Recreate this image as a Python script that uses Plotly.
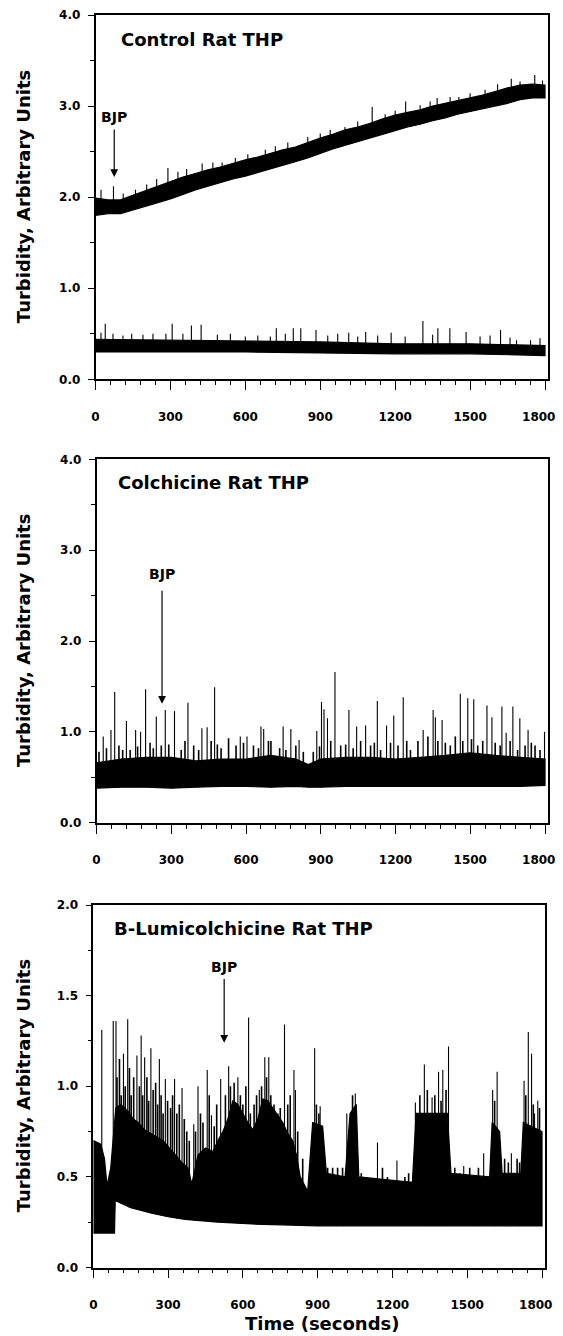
import numpy as np
import plotly.graph_objects as go

# The page body has an 8px margin, so the figure is drawn smaller and all
# page-pixel positions below are shifted by OFF.
OFF = 8
W, H = 563 - OFF, 1336 - OFF
FONT = "DejaVu Sans"

# ---------------- Panel 1: Control Rat THP ----------------
ctrl_up_t = [0, 50, 100, 150, 200, 250, 300, 350, 400, 450, 500, 550, 600, 650, 700, 750, 800, 850, 900, 950, 1000,
             1050, 1100, 1150, 1200, 1250, 1300, 1350, 1400, 1450, 1500, 1550, 1600, 1650, 1700, 1750, 1800]
ctrl_up_lo = [1.80, 1.82, 1.82, 1.86, 1.90, 1.94, 1.98, 2.03, 2.08, 2.12, 2.16, 2.20, 2.23, 2.27, 2.31, 2.35, 2.39, 2.43, 2.48, 2.53, 2.57,
              2.61, 2.65, 2.69, 2.73, 2.77, 2.80, 2.84, 2.87, 2.91, 2.94, 2.97, 3.00, 3.03, 3.07, 3.09, 3.09]
ctrl_up_hi = [1.99, 1.97, 1.97, 2.02, 2.07, 2.12, 2.17, 2.22, 2.26, 2.30, 2.33, 2.37, 2.41, 2.44, 2.48, 2.52, 2.55, 2.60, 2.65, 2.69, 2.74,
              2.77, 2.81, 2.86, 2.90, 2.93, 2.96, 3.00, 3.03, 3.06, 3.09, 3.12, 3.16, 3.20, 3.23, 3.24, 3.23]
ctrl_up_spk_t = [22, 72, 111, 160, 205, 245, 290, 330, 365, 427, 470, 507, 560, 610, 680, 720, 770, 850, 900, 940,
                 999, 1050, 1108, 1160, 1200, 1242, 1300, 1340, 1368, 1420, 1455, 1500, 1560, 1610, 1665, 1700, 1759, 1790]
ctrl_up_spk_v = [2.08, 2.12, 2.04, 2.08, 2.14, 2.20, 2.32, 2.28, 2.31, 2.37, 2.38, 2.38, 2.43, 2.47, 2.52, 2.56, 2.60, 2.66, 2.70, 2.74,
                 2.77, 2.83, 2.99, 2.91, 2.95, 3.05, 3.01, 3.05, 3.09, 3.10, 3.10, 3.14, 3.18, 3.24, 3.30, 3.27, 3.34, 3.28]

ctrl_lo_t = [0, 300, 600, 900, 1200, 1500, 1800]
ctrl_lo_lo = [0.30, 0.30, 0.30, 0.29, 0.28, 0.28, 0.26]
ctrl_lo_hi = [0.44, 0.43, 0.42, 0.41, 0.39, 0.39, 0.37]
ctrl_lo_spk_t = [22, 39, 70, 110, 145, 190, 230, 282, 307, 350, 384, 423, 488, 540, 600, 650, 700, 724, 760, 792, 822,
                 883, 930, 970, 1014, 1050, 1082, 1130, 1184, 1240, 1311, 1350, 1371, 1419, 1484, 1540, 1580, 1622,
                 1660, 1686, 1742, 1780]
ctrl_lo_spk_v = [0.51, 0.61, 0.50, 0.48, 0.50, 0.49, 0.50, 0.50, 0.61, 0.50, 0.59, 0.60, 0.49, 0.50, 0.47, 0.48, 0.47, 0.56, 0.50, 0.56, 0.56,
                 0.54, 0.48, 0.50, 0.51, 0.47, 0.52, 0.48, 0.51, 0.47, 0.64, 0.49, 0.56, 0.56, 0.52, 0.47, 0.48, 0.54,
                 0.46, 0.43, 0.43, 0.45]

# ---------------- Panel 2: Colchicine Rat THP ----------------
colc_t = [0, 100, 200, 300, 400, 500, 600, 700, 800, 850, 900, 1000, 1100, 1200, 1300, 1400, 1500, 1600, 1700, 1800]
colc_lo = [0.38, 0.39, 0.39, 0.38, 0.39, 0.40, 0.40, 0.39, 0.40, 0.39, 0.39, 0.40, 0.40, 0.40, 0.40, 0.40, 0.40, 0.40, 0.40, 0.41]
colc_hi = [0.66, 0.70, 0.72, 0.72, 0.68, 0.70, 0.70, 0.74, 0.70, 0.64, 0.70, 0.72, 0.72, 0.70, 0.72, 0.74, 0.77, 0.74, 0.72, 0.70]
colc_spk_t = [27, 58, 73, 120, 157, 177, 197, 240, 276, 313, 367, 423, 444, 474, 577, 604, 660, 671, 749, 780,
              813, 884, 903, 913, 927, 957, 1013, 1044, 1080, 1127, 1164, 1193, 1231, 1311, 1351, 1360, 1387,
              1460, 1490, 1514, 1567, 1587, 1627, 1644, 1671, 1699, 1732, 1798]
colc_spk_v = [0.95, 1.02, 1.44, 1.12, 1.02, 1.00, 1.47, 1.17, 1.24, 1.23, 1.32, 1.04, 1.05, 1.49, 0.95, 0.95, 1.06, 1.03, 1.06, 1.03,
              0.91, 1.01, 1.33, 1.25, 1.15, 1.66, 1.24, 1.06, 1.07, 1.34, 1.07, 1.18, 1.38, 1.02, 1.24, 1.16, 1.13,
              1.42, 1.37, 1.36, 1.29, 1.16, 1.28, 0.99, 1.28, 1.15, 1.02, 1.00]
colc_hair_t = [10, 40, 90, 105, 135, 165, 215, 228, 260, 290, 340, 355, 390, 410, 460, 485, 500, 530, 560, 590, 630,
               650, 690, 700, 735, 760, 800, 830, 870, 895, 940, 980, 1000, 1030, 1060, 1100, 1115, 1140, 1180,
               1210, 1245, 1260, 1290, 1330, 1370, 1400, 1420, 1440, 1470, 1505, 1530, 1550, 1600, 1620, 1660,
               1690, 1720, 1745, 1760, 1780]
colc_hair_v = [0.78, 0.82, 0.85, 0.80, 0.80, 0.84, 0.88, 0.82, 0.85, 0.86, 0.80, 0.90, 0.85, 0.80, 0.90, 0.86, 0.82, 0.93, 0.85, 0.88, 0.85,
               0.82, 0.90, 0.90, 0.82, 0.80, 0.85, 0.78, 0.78, 0.84, 0.90, 0.85, 0.86, 0.82, 0.90, 0.85, 0.88, 0.80, 0.88,
               0.85, 0.90, 0.80, 0.90, 0.95, 0.90, 0.88, 0.85, 0.95, 0.90, 0.92, 0.85, 0.90, 0.88, 0.85, 0.90,
               0.80, 0.85, 0.88, 0.85, 0.80]

# ---------------- Panel 3: B-Lumicolchicine Rat THP ----------------
lumi_lo_t = [0, 85, 88, 100, 150, 234, 300, 368, 500, 636, 900, 1800]
lumi_lo = [0.19, 0.19, 0.37, 0.36, 0.33, 0.30, 0.28, 0.265, 0.25, 0.24, 0.23, 0.23]
lumi_hi_t = [0, 30, 45, 55, 70, 80, 90, 110, 140, 160, 180, 205, 230, 255, 280, 305, 330, 355, 380, 395, 420, 450,
             480, 500, 520, 540, 560, 580, 600, 620, 640, 660, 680, 700, 720, 740, 760, 780, 800, 815, 830, 860,
             880, 920, 935, 1010, 1030, 1055, 1065, 1280, 1295, 1420, 1435, 1590, 1600, 1630, 1640, 1715, 1725, 1800]
lumi_hi = [0.70, 0.68, 0.60, 0.45, 0.55, 0.70, 0.88, 0.90, 0.86, 0.82, 0.80, 0.76, 0.74, 0.72, 0.70, 0.66, 0.62, 0.58, 0.55, 0.46, 0.62, 0.66,
           0.64, 0.70, 0.75, 0.82, 0.92, 0.90, 0.85, 0.80, 0.76, 0.82, 0.93, 0.92, 0.88, 0.84, 0.80, 0.74, 0.70, 0.62, 0.50, 0.42,
           0.80, 0.78, 0.52, 0.50, 0.85, 0.90, 0.50, 0.47, 0.85, 0.85, 0.52, 0.50, 0.80, 0.75, 0.52, 0.52, 0.80, 0.75]
lumi_spk_t = [34, 80, 91, 121, 138, 175, 192, 206, 231, 265, 289, 326, 356, 403, 420, 457, 474, 511, 543, 580,
              623, 666, 688, 704, 767, 805, 811, 888, 910, 1017, 1051, 1140, 1218, 1292, 1328, 1359, 1385, 1402,
              1425, 1486, 1566, 1602, 1620, 1677, 1728, 1745, 1758, 1770, 1783]
lumi_spk_v = [1.31, 1.36, 1.36, 1.18, 1.37, 1.17, 1.28, 1.16, 1.21, 1.15, 1.04, 1.04, 0.99, 0.79, 1.00, 1.09, 0.84, 1.04, 1.11, 1.05,
              1.38, 0.98, 1.16, 1.16, 1.34, 1.09, 0.98, 1.21, 0.89, 0.85, 0.96, 0.69, 0.59, 0.91, 1.12, 0.94, 1.08, 1.09,
              1.22, 0.56, 0.63, 0.98, 1.08, 0.63, 1.03, 1.30, 1.18, 0.85, 0.92]
lumi_hair_t = [95, 105, 112, 128, 145, 152, 162, 185, 198, 215, 222, 240, 250, 258, 272, 280, 298, 310, 318, 335, 345,
               365, 375, 385, 410, 430, 440, 465, 485, 495, 530, 550, 565, 590, 600, 612, 630, 645, 655, 675, 695,
               712, 725, 740, 750, 780, 790, 820, 840, 895, 905, 940, 960, 980, 1000, 1040, 1075, 1100, 1160, 1180,
               1250, 1265, 1310, 1340, 1370, 1395, 1415, 1450, 1470, 1510, 1530, 1545, 1610, 1650, 1665, 1700,
               1710, 1735, 1765, 1790]
lumi_hair_v = [1.05, 1.15, 0.95, 1.00, 1.10, 0.95, 1.05, 1.00, 0.95, 1.05, 0.92, 0.98, 1.02, 0.90, 0.95, 0.85, 0.92, 0.88, 0.95, 0.85, 0.90,
               0.82, 0.75, 0.70, 0.75, 0.85, 0.80, 0.95, 0.78, 0.90, 0.95, 1.00, 1.02, 0.95, 0.90, 1.00, 0.85, 0.90, 0.95, 1.00, 1.05,
               0.95, 0.90, 0.85, 0.88, 0.90, 0.95, 0.75, 0.60, 0.90, 0.85, 0.55, 0.55, 0.55, 0.55, 0.95, 0.52, 0.50, 0.55, 0.50,
               0.50, 0.52, 0.95, 0.98, 0.95, 0.92, 0.98, 0.55, 0.52, 0.55, 0.50, 0.55, 0.92, 0.60, 0.58, 0.60,
               0.58, 0.95, 0.90, 0.88]

# BJP arrows: (time, text y, arrow top, arrow tip)
bjp = [(75, 2.88, 2.76, 2.22), (263, 2.74, 2.57, 1.31), (525, 1.66, 1.60, 1.24)]
titles = [("Control Rat THP", 96, 3.73), ("Colchicine Rat THP", 79, 3.75), ("B-Lumicolchicine Rat THP", 74, 1.87)]
x_ticks = [0, 300, 600, 900, 1200, 1500, 1800]
# last label padded with non-breaking spaces so it stays inside the page edge
x_ticktext = ["0", "300", "600", "900", "1200", "1500", "1800\u00a0\u00a0\u00a0"]
y_title = "Turbidity, Arbitrary Units"
x_title = "Time (seconds)"

fig = go.Figure()


def band(t_lo, lo, t_hi, hi, xa, ya):
    xs = list(t_hi) + list(reversed(t_lo))
    ys = list(hi) + list(reversed(lo))
    fig.add_trace(go.Scatter(x=xs, y=ys, fill="toself", fillcolor="black", mode="lines",
                             line=dict(color="black", width=1.2), xaxis=xa, yaxis=ya,
                             showlegend=False, hoverinfo="skip"))


def spikes(ts, vs, base_t, base_v, xa, ya, w=1.1):
    xs, ys = [], []
    for t, v in zip(ts, vs):
        b = float(np.interp(t, base_t, base_v))
        xs += [t, t, None]
        ys += [b, v, None]
    fig.add_trace(go.Scatter(x=xs, y=ys, mode="lines", line=dict(color="black", width=w),
                             xaxis=xa, yaxis=ya, showlegend=False, hoverinfo="skip"))


# Panel 1
band(ctrl_up_t, ctrl_up_lo, ctrl_up_t, ctrl_up_hi, "x", "y")
spikes(ctrl_up_spk_t, ctrl_up_spk_v, ctrl_up_t, ctrl_up_lo, "x", "y")
band(ctrl_lo_t, ctrl_lo_lo, ctrl_lo_t, ctrl_lo_hi, "x", "y")
spikes(ctrl_lo_spk_t, ctrl_lo_spk_v, ctrl_lo_t, ctrl_lo_lo, "x", "y")
# Panel 2
band(colc_t, colc_lo, colc_t, colc_hi, "x2", "y2")
spikes(colc_hair_t, colc_hair_v, colc_t, colc_lo, "x2", "y2", w=1.6)
spikes(colc_spk_t, colc_spk_v, colc_t, colc_lo, "x2", "y2")
# Panel 3
band(lumi_lo_t, lumi_lo, lumi_hi_t, lumi_hi, "x3", "y3")
spikes(lumi_hair_t, lumi_hair_v, lumi_lo_t, lumi_lo, "x3", "y3", w=1.6)
spikes(lumi_spk_t, lumi_spk_v, lumi_lo_t, lumi_lo, "x3", "y3")

# Geometry (page pixels)
panels = [
    dict(x=(95.5, 548.0), y=(15.0, 379.3), yr=4.0, ydt=1.0, ymdt=0.5),
    dict(x=(96.5, 548.0), y=(459.3, 822.7), yr=4.0, ydt=1.0, ymdt=0.5),
    dict(x=(93.3, 545.0), y=(905.0, 1267.5), yr=2.0, ydt=0.5, ymdt=0.25),
]


def px(v):
    return (v - OFF) / W


def py(v):
    return 1 - (v - OFF) / H


tickfont = dict(family=FONT, size=12, color="black", weight="bold")
layout = dict(width=W, height=H, margin=dict(l=0, r=0, t=0, b=0, autoexpand=False),
              paper_bgcolor="white", plot_bgcolor="white", showlegend=False)

annotations = []
for i, p in enumerate(panels):
    sx = "" if i == 0 else str(i + 1)
    xa = dict(domain=[px(p["x"][0]), px(p["x"][1])], range=[0, 1812], anchor="y" + sx,
              tickvals=x_ticks, ticktext=x_ticktext,
              ticks="outside", ticklen=9, tickwidth=1.3, tickcolor="black",
              minor=dict(dtick=60, tick0=0, ticks="outside", ticklen=4, tickwidth=1.2, tickcolor="black"),
              showline=True, linecolor="black", linewidth=1.6, mirror=True, automargin=False,
              ticklabeloverflow="allow",
              showgrid=False, zeroline=False, tickfont=tickfont, ticklabelstandoff=16, fixedrange=True)
    ya = dict(domain=[py(p["y"][1]), py(p["y"][0])], range=[0, p["yr"]], anchor="x" + sx,
              dtick=p["ydt"], tick0=0, tickformat=".1f",
              ticks="outside", ticklen=6, tickwidth=1.3, tickcolor="black",
              minor=dict(dtick=p["ymdt"], tick0=0, ticks="outside", ticklen=4, tickwidth=1.2, tickcolor="black"),
              showline=True, linecolor="black", linewidth=1.6, mirror=True, automargin=False,
              ticklabeloverflow="allow",
              showgrid=False, zeroline=False, tickfont=tickfont, ticklabelstandoff=5, fixedrange=True)
    layout["xaxis" + sx] = xa
    layout["yaxis" + sx] = ya

    # panel title
    ttl, tx, ty = titles[i]
    annotations.append(dict(x=tx, y=ty, xref="x" + sx, yref="y" + sx, text=ttl, showarrow=False,
                            xanchor="left", yanchor="middle",
                            font=dict(family=FONT, size=18, color="black", weight="bold")))
    # BJP marker
    bt, btext, btop, btip = bjp[i]
    annotations.append(dict(x=bt, y=btext, xref="x" + sx, yref="y" + sx, text="BJP", showarrow=False,
                            xanchor="center", yanchor="middle",
                            font=dict(family=FONT, size=14, color="black", weight="bold")))
    annotations.append(dict(x=bt, y=btip, ax=bt, ay=btop, xref="x" + sx, yref="y" + sx,
                            axref="x" + sx, ayref="y" + sx, text="", showarrow=True,
                            arrowhead=2, arrowsize=1.3, arrowwidth=1.2, arrowcolor="black"))
    # y-axis title
    yc = (p["y"][0] + p["y"][1]) / 2
    annotations.append(dict(x=px(23), y=py(yc), xref="paper", yref="paper", text=y_title,
                            showarrow=False, textangle=-90, xanchor="center", yanchor="middle",
                            font=dict(family=FONT, size=18, color="black", weight="bold")))

annotations.append(dict(x=px(322), y=py(1323), xref="paper", yref="paper", text=x_title,
                        showarrow=False, xanchor="center", yanchor="middle",
                        font=dict(family=FONT, size=18, color="black", weight="bold")))
layout["annotations"] = annotations

fig.update_layout(**layout)
fig.write_html("out.html")
